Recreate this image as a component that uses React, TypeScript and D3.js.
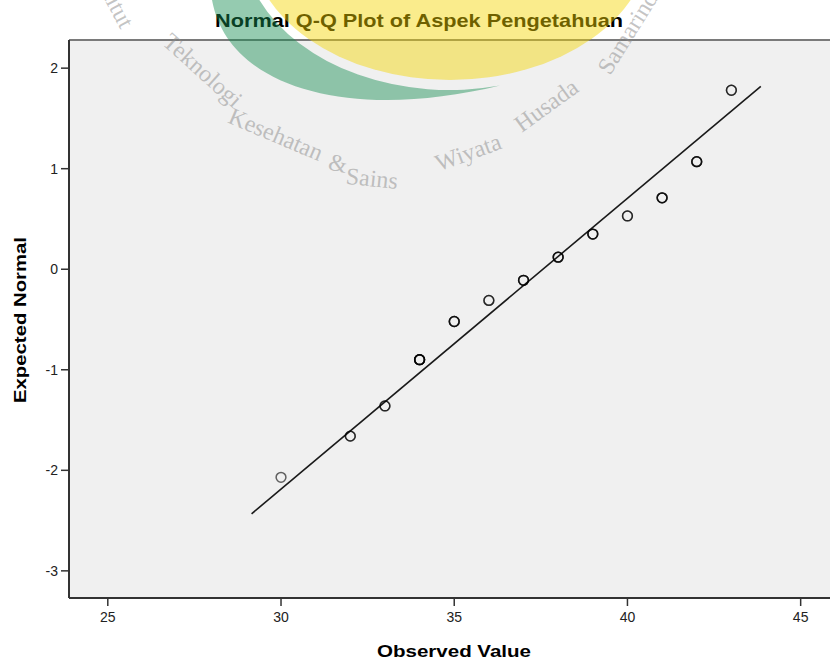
import React from "react";
import * as d3 from "d3";

// values
const observed = [30, 32, 33, 34, 35, 36, 37, 38, 39, 40, 41, 42, 43];
const expected = [-2.07, -1.66, -1.36, -0.9, -0.52, -0.31, -0.11, 0.12, 0.35, 0.53, 0.71, 1.07, 1.78];
const caseCounts = [1, 2, 2, 5, 3, 2, 3, 3, 3, 2, 3, 3, 2];
const xTicks = [25, 30, 35, 40, 45];
const yTicks = [2, 1, 0, -1, -2, -3];
const xDomain = [23.88, 46.02];
const yDomain = [-3.27, 2.28];
// reference line: expected = (x - mean) / sd
const lineMean = 37.56;
const lineSd = 3.457;
const lineRange = [29.15, 43.85];

const wmWords = [
  { t: "Institut", x: 112, y: -4, r: 62 },
  { t: "Teknologi", x: 203, y: 70, r: 42 },
  { t: "Kesehatan", x: 276, y: 134, r: 23 },
  { t: "&", x: 338, y: 163, r: 12 },
  { t: "Sains", x: 372, y: 178, r: 6 },
  { t: "Wiyata", x: 468, y: 152, r: -20 },
  { t: "Husada", x: 546, y: 105, r: -36 },
  { t: "Samarinda", x: 630, y: 28, r: -58 },
];

const FONT = "'Liberation Sans', Arial, Helvetica, sans-serif";

export default function App() {
  const width = 830;
  const height = 664;
  const plot = { left: 69, right: 836, top: 40, bottom: 598 };

  const x = d3.scaleLinear().domain(xDomain).range([plot.left, plot.right]);
  const y = d3.scaleLinear().domain(yDomain).range([plot.bottom, plot.top]);

  const linePath = d3
    .line<number>()
    .x((d) => x(d))
    .y((d) => y((d - lineMean) / lineSd))(lineRange);

  const points = observed.flatMap((v, i) =>
    d3.range(caseCounts[i]).map((k) => ({ v, z: expected[i], k }))
  );

  // logo watermark: yellow ellipse and a green crescent hugging it
  const ell = { cx: 450, cy: -60, rx: 200, ry: 140 };
  const inner = { rx: 208, ry: 150 };
  const tipX = 500;
  const tipY = ell.cy + inner.ry * Math.sqrt(1 - ((tipX - ell.cx) / inner.rx) ** 2);
  const topX = ell.cx - inner.rx * Math.sqrt(1 - (ell.cy / inner.ry) ** 2);
  const greenPath = `M212,0 C228,88 350,122 ${tipX},${tipY} A${inner.rx},${inner.ry} 0 0 1 ${topX},0 Z`;

  return (
    <div>
      <style>{`body{margin:0}`}</style>
      <svg width={width} height={height} style={{ display: "block", background: "#fff" }}>
        {/* plot area */}
        <rect
          x={plot.left}
          y={plot.top}
          width={plot.right - plot.left}
          height={plot.bottom - plot.top}
          fill="#f0f0f0"
        />
        <line x1={plot.left} x2={plot.right} y1={plot.top} y2={plot.top} stroke="#7a7a7a" strokeWidth={2} />
        <line x1={plot.left} x2={plot.left} y1={plot.top} y2={plot.bottom} stroke="#333" strokeWidth={2} />
        <line x1={plot.left} x2={plot.right} y1={plot.bottom} y2={plot.bottom} stroke="#333" strokeWidth={2} />

        {/* y axis */}
        {yTicks.map((t) => (
          <g key={"y" + t}>
            <line x1={plot.left - 8} x2={plot.left} y1={y(t)} y2={y(t)} stroke="#333" strokeWidth={1.5} />
            <text
              x={plot.left - 11}
              y={y(t)}
              dy="0.36em"
              textAnchor="end"
              fontFamily={FONT}
              fontSize={14}
              fill="#222"
            >
              {t}
            </text>
          </g>
        ))}

        {/* x axis */}
        {xTicks.map((t) => (
          <g key={"x" + t}>
            <line x1={x(t)} x2={x(t)} y1={plot.bottom} y2={plot.bottom + 8} stroke="#333" strokeWidth={1.5} />
            <text x={x(t)} y={622} textAnchor="middle" fontFamily={FONT} fontSize={14} fill="#222">
              {t}
            </text>
          </g>
        ))}

        {/* reference line */}
        <path d={linePath ?? ""} fill="none" stroke="#1a1a1a" strokeWidth={1.6} />

        {/* cases */}
        {points.map((p, i) => (
          <circle
            key={i}
            cx={x(p.v)}
            cy={y(p.z)}
            r={4.9}
            fill="none"
            stroke="#000"
            strokeOpacity={0.6}
            strokeWidth={1.5}
          />
        ))}

        {/* titles */}
        <text
          x={419}
          y={27}
          textAnchor="middle"
          fontFamily={FONT}
          fontWeight="bold"
          fontSize={19}
          textLength={408}
          lengthAdjust="spacingAndGlyphs"
        >
          Normal Q-Q Plot of Aspek Pengetahuan
        </text>
        <text
          x={454}
          y={657}
          textAnchor="middle"
          fontFamily={FONT}
          fontWeight="bold"
          fontSize={17}
          textLength={154}
          lengthAdjust="spacingAndGlyphs"
        >
          Observed Value
        </text>
        <text
          transform="translate(26,320) rotate(-90)"
          textAnchor="middle"
          fontFamily={FONT}
          fontWeight="bold"
          fontSize={17}
          textLength={166}
          lengthAdjust="spacingAndGlyphs"
        >
          Expected Normal
        </text>

        {/* watermark */}
        <g style={{ pointerEvents: "none" }}>
          <ellipse cx={ell.cx} cy={ell.cy} rx={ell.rx} ry={ell.ry} fill="rgb(244,213,0)" fillOpacity={0.45} />
          <path d={greenPath} fill="rgb(20,140,80)" fillOpacity={0.45} />
          {wmWords.map((w) => (
            <text
              key={w.t}
              transform={`translate(${w.x},${w.y}) rotate(${w.r})`}
              textAnchor="middle"
              dy="0.35em"
              fontFamily="'Liberation Serif', 'Times New Roman', serif"
              fontSize={24}
              fill="#8a8a8a"
              fillOpacity={0.5}
            >
              {w.t}
            </text>
          ))}
        </g>
      </svg>
    </div>
  );
}
